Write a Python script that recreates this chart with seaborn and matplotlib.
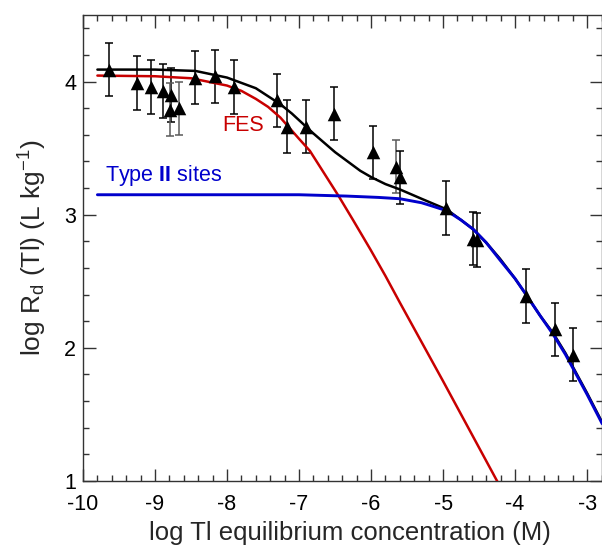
import numpy as np
import pandas as pd
import matplotlib
matplotlib.use("Agg")
import matplotlib.pyplot as plt
from matplotlib.ticker import MultipleLocator
import seaborn as sns

# ---- data ----
obs_x = [-9.64, -9.25, -9.06, -8.89, -8.78, -8.79, -8.67, -8.44, -8.17, -7.90,
         -7.31, -7.17, -6.91, -6.52, -5.97, -5.66, -5.60, -4.96, -4.59, -4.53,
         -3.85, -3.45, -3.19]
obs_y = [4.09, 3.99, 3.96, 3.93, 3.90, 3.79, 3.80, 4.03, 4.04, 3.96,
         3.86, 3.66, 3.66, 3.76, 3.47, 3.36, 3.28, 3.05, 2.82, 2.81,
         2.39, 2.14, 1.95]
obs_err = [0.20] * 23

total_x = [-9.8, -9.0, -8.44, -8.0, -7.8, -7.6, -7.43, -7.26, -7.1, -6.92,
           -6.8, -6.65, -6.5, -6.3, -6.15, -5.99, -5.8, -5.6, -5.3, -4.95,
           -4.75, -4.58, -4.4, -4.21, -4.0, -3.86, -3.65, -3.47, -3.3,
           -3.17, -3.0, -2.79]
total_y = [4.09, 4.09, 4.08, 4.03, 3.99, 3.95, 3.89, 3.83, 3.76, 3.67,
           3.61, 3.54, 3.47, 3.39, 3.33, 3.28, 3.23, 3.19, 3.12, 3.04,
           2.96, 2.89, 2.79, 2.67, 2.52, 2.41, 2.24, 2.11, 1.96,
           1.83, 1.66, 1.44]

fes_x = [-9.8, -9.0, -8.5, -8.0, -7.8, -7.6, -7.43, -7.26, -7.0, -6.85,
         -6.65, -6.45, -6.25, -6.01, -5.8, -5.6, -5.0, -4.25, -4.1]
fes_y = [4.045, 4.04, 4.025, 3.97, 3.93, 3.87, 3.81, 3.73, 3.57, 3.48,
         3.31, 3.14, 2.96, 2.74, 2.54, 2.34, 1.75, 1.0, 0.85]

type2_x = [-9.8, -7.0, -6.34, -5.9, -5.6, -5.3, -5.18, -4.95, -4.75, -4.58,
           -4.4, -4.21, -4.0, -3.86, -3.65, -3.47, -3.3, -3.17, -3.0, -2.79]
type2_y = [3.15, 3.15, 3.14, 3.13, 3.12, 3.09, 3.07, 3.03, 2.96, 2.89,
           2.79, 2.66, 2.52, 2.41, 2.24, 2.10, 1.95, 1.82, 1.65, 1.43]

x_ticks = [-10, -9, -8, -7, -6, -5, -4, -3]
y_ticks = [1, 2, 3, 4]

# ---- style ----
sns.set_theme(style="ticks")
plt.rcParams["font.family"] = ["Liberation Sans", "DejaVu Sans"]
plt.rcParams["axes.unicode_minus"] = False
plt.rcParams["mathtext.fontset"] = "custom"
plt.rcParams["mathtext.rm"] = "Liberation Sans"
plt.rcParams["mathtext.it"] = "Liberation Sans:italic"
plt.rcParams["mathtext.bf"] = "Liberation Sans:bold"
plt.rcParams["mathtext.default"] = "regular"

RED = "#C80000"
BLUE = "#0000CC"

fig = plt.figure(figsize=(6.02, 5.46), dpi=100)
ax = fig.add_axes([83 / 602, 1 - 481 / 546, (601.5 - 83) / 602, (481 - 15) / 546])

obs = pd.DataFrame({"x": obs_x, "y": obs_y, "err": obs_err})
bar_colors = ["black"] * len(obs)
for i in (5, 6, 15):
    bar_colors[i] = "#5a5a5a"
for i, row in obs.iterrows():
    ax.errorbar(row["x"], row["y"], yerr=row["err"], fmt="none",
                ecolor=bar_colors[i], elinewidth=1.1, capsize=3,
                capthick=1.1, zorder=2)

sns.lineplot(x=total_x, y=total_y, sort=False, color="black", lw=1.8, ax=ax, zorder=3)
sns.lineplot(x=fes_x, y=fes_y, sort=False, color=RED, lw=1.8, ax=ax, zorder=3)
sns.lineplot(x=type2_x, y=type2_y, sort=False, color=BLUE, lw=2.1, ax=ax, zorder=4)

sns.scatterplot(data=obs, x="x", y="y", marker="^", s=95, color="black",
                edgecolor="black", linewidth=0, ax=ax, zorder=5)

ax.text(-8.07, 3.63, "FES", color=RED, fontsize=15.5, ha="left", va="baseline")
ax.text(-9.70, 3.25, r"Type $\mathbf{II}$ sites", color=BLUE, fontsize=15.5,
        ha="left", va="baseline")

ax.set_xlim(-10, -2.8)
ax.set_ylim(1, 4.5)
ax.set_xticks(x_ticks)
ax.set_xticklabels([str(t) for t in x_ticks])
ax.set_yticks(y_ticks)
ax.set_yticklabels([str(t) for t in y_ticks])
ax.xaxis.set_minor_locator(MultipleLocator(0.2))
ax.yaxis.set_minor_locator(MultipleLocator(0.2))
ax.tick_params(which="both", direction="in", top=True, right=True,
               colors="#333333", labelcolor="black", width=1.0)
ax.tick_params(which="major", length=9, labelsize=15.5)
ax.tick_params(axis="x", which="major", pad=9)
ax.tick_params(axis="y", which="major", pad=5)
ax.tick_params(which="minor", length=4.5)
for s in ax.spines.values():
    s.set_color("#333333")
    s.set_linewidth(1.0)

ax.set_xlabel("log Tl equilibrium concentration (M)", fontsize=18.5, labelpad=5)
ax.xaxis.set_label_coords(0.515, -0.085)
ax.xaxis.label.set_va("top")
ax.set_ylabel(r"log R$_d$ (Tl) (L kg$^{-1}$)", fontsize=19, labelpad=11)

fig.savefig("out.png", dpi=100)
